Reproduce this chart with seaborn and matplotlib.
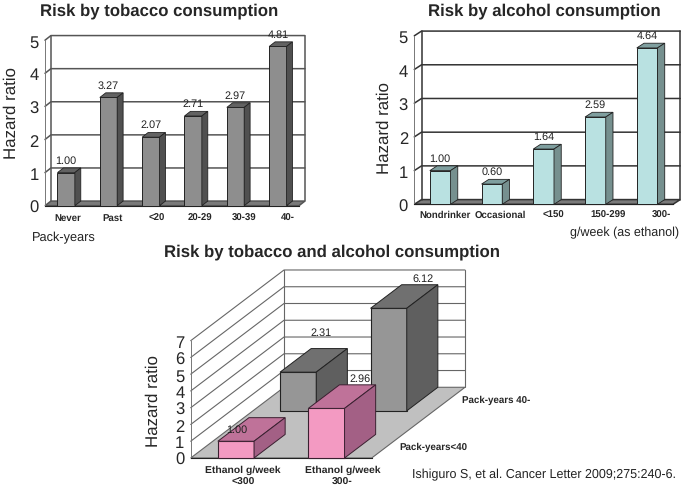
from matplotlib import pyplot as plt
from matplotlib.patches import Polygon
from matplotlib.transforms import ScaledTranslation
import numpy as np
import pandas as pd
import seaborn as sns

W, H = 685, 489

tobacco_cats = ['Never', 'Past', '<20', '20-29', '30-39', '40-']
tobacco_vals = [1.00, 3.27, 2.07, 2.71, 2.97, 4.81]

alcohol_cats = ['Nondrinker', 'Occasional', '<150', '150-299', '300-']
alcohol_vals = [1.00, 0.60, 1.64, 2.59, 4.64]

ethanol_cats = ['Ethanol g/week\n<300', 'Ethanol g/week\n300-']
low_pack_vals = [1.00, 2.96]
high_pack_vals = [2.31, 6.12]

sns.set_style('white')
plt.rcParams['font.family'] = ['Liberation Sans', 'DejaVu Sans']
plt.rcParams['text.hinting'] = 'none'

fig = plt.figure(figsize=(W / 100, H / 100), dpi=100)


def px(x, y):
    return x / W, 1 - y / H


def make_axes(left, right, bottom, top):
    ax = fig.add_axes([left / W, 1 - bottom / H, (right - left) / W, (bottom - top) / H])
    ax.patch.set_visible(False)
    return ax


# floor, back wall and side wall of the fake 3d box
def draw_box(ax, ticks, dx, dy, floor, line, lw):
    x0, x1 = ax.get_xlim()
    top = ticks[-1]
    ax.add_patch(Polygon([(x0, 0), (x1, 0), (x1 + dx, dy), (x0 + dx, dy)], fc=floor, ec=line,
                         lw=lw, clip_on=False, zorder=1))
    for t in ticks[1:]:
        ax.plot([x0, x0 + dx, x1 + dx], [t, t + dy, t + dy], color=line, lw=lw, clip_on=False, zorder=1)
    ax.plot([x0 + dx, x0 + dx], [dy, top + dy], color=line, lw=lw, clip_on=False, zorder=1)
    ax.plot([x1 + dx, x1 + dx], [dy, top + dy], color=line, lw=lw, clip_on=False, zorder=1)


# top and side faces of one bar, taken from the rectangle seaborn drew
def extrude(ax, rect, dx, dy, top_col, side_col, edge, lw, z):
    x, y, w, h = rect.get_x(), rect.get_y(), rect.get_width(), rect.get_height()
    rect.set_zorder(z)
    rect.set_clip_on(False)
    ax.add_patch(Polygon([(x, y + h), (x + w, y + h), (x + w + dx, y + h + dy), (x + dx, y + h + dy)],
                         fc=top_col, ec=edge, lw=lw, clip_on=False, zorder=z))
    ax.add_patch(Polygon([(x + w, y), (x + w + dx, y + dy), (x + w + dx, y + h + dy), (x + w, y + h)],
                         fc=side_col, ec=edge, lw=lw, clip_on=False, zorder=z))


def style_axis(ax, ticks, shifts, label_size, minor_len, pad):
    n = len(ax.get_xticks())
    ax.set_yticks(ticks)
    ax.set_xticks(np.arange(n + 1) - 0.5, minor=True)
    ax.tick_params(axis='y', length=0, pad=4.5, labelsize=12)
    ax.tick_params(axis='x', which='major', length=0, pad=pad, labelsize=label_size)
    ax.tick_params(axis='x', which='minor', direction='in', length=minor_len, width=0.6, color='#222222')
    for s in ['top', 'right']:
        ax.spines[s].set_visible(False)
    ax.spines['bottom'].set_color('#222222')
    ax.spines['bottom'].set_linewidth(0.8)
    ax.spines['left'].set_color('#777777')
    ax.spines['left'].set_linewidth(0.7)
    for lab, s in zip(ax.get_xticklabels(), shifts):
        lab.set_fontweight('bold')
        lab.set_linespacing(1.45)
        lab.set_transform(lab.get_transform() + ScaledTranslation(s / 100, 0, fig.dpi_scale_trans))


def simple_panel(ax, cats, vals, width, dx, dy, colors, shifts, line, pad):
    front, top, side = colors
    sns.barplot(x=cats, y=vals, color=front, saturation=1, width=width, edgecolor='#222222',
                linewidth=0.7, ax=ax)
    ax.set_xlim(-0.5, len(cats) - 0.5)
    ax.set_ylim(0, 5)
    draw_box(ax, [0, 1, 2, 3, 4, 5], dx, dy, '#7a7a7a', line, 1.1)
    for rect in ax.containers[0]:
        extrude(ax, rect, dx, dy, top, side, '#222222', 0.6, 3)
    ax.bar_label(ax.containers[0], fmt='%.2f', padding=5.5, fontsize=7.8, color='#222222', zorder=6)
    style_axis(ax, [0, 1, 2, 3, 4, 5], shifts, 6.9, 3.2, pad)


# tobacco
ax1 = make_axes(45, 299, 206.7, 41.2)
simple_panel(ax1, tobacco_cats, tobacco_vals, 0.41, 0.14, 0.14, ('#8e8e8e', '#626262', '#505050'),
             [1.5, 4, 6, 7, 9, 10], '#555555', 5)
ax1.set_ylabel('Hazard ratio', fontsize=12.2)
ax1.yaxis.set_label_coords(*px(19, 113), transform=fig.transFigure)

# alcohol
ax2 = make_axes(414.3, 673, 205.3, 36.8)
simple_panel(ax2, alcohol_cats, alcohol_vals, 0.4, 0.14, 0.14, ('#b9e1e1', '#7f9f9f', '#76908f'),
             [5, 8, 9.5, 13, 14], '#333333', 3.8)
ax2.set_ylabel('Hazard ratio', fontsize=12.2)
ax2.yaxis.set_label_coords(*px(392, 128), transform=fig.transFigure)

# combined
ax3 = make_axes(190.7, 371.7, 459, 341.7)
df = pd.DataFrame({'ethanol': ethanol_cats * 2,
                   'hr': low_pack_vals + high_pack_vals,
                   'pack': ['low'] * 2 + ['high'] * 2})
depth_x, depth_y = 1.031, 4.22
sns.barplot(data=df[df.pack == 'high'], x='ethanol', y='hr', color='#969696', saturation=1, width=0.4,
            edgecolor='#222222', linewidth=0.8, ax=ax3)
sns.barplot(data=df[df.pack == 'low'], x='ethanol', y='hr', color='#f39ac2', saturation=1, width=0.4,
            edgecolor='#3a2030', linewidth=0.8, ax=ax3)
ax3.set_xlim(-0.5, 1.5)
ax3.set_ylim(0, 7)
ax3.set_xlabel('')
ax3.set_ylabel('')
draw_box(ax3, [0, 1, 2, 3, 4, 5, 6, 7], depth_x, depth_y, '#c0c0c0', '#666666', 0.8)
for rect in ax3.containers[0]:
    rect.set_x(rect.get_x() + depth_x * 2 / 3)
    rect.set_y(depth_y * 2 / 3)
    extrude(ax3, rect, depth_x / 3, depth_y / 3, '#707070', '#5f5f5f', '#222222', 0.7, 3)
for rect in ax3.containers[1]:
    extrude(ax3, rect, depth_x / 3, depth_y / 3, '#bf7299', '#a36085', '#3a2030', 0.7, 4)
style_axis(ax3, [0, 1, 2, 3, 4, 5, 6, 7], [7, 16], 7.5, 6, 4.5)
ax3.set_ylabel('Hazard ratio', fontsize=12.2)
ax3.yaxis.set_label_coords(*px(161.5, 401), transform=fig.transFigure)

label_offsets = [(0.5, 9), (24, 22), (16.5, 29), (24.5, 22)]
label_rects = [ax3.containers[1][0], ax3.containers[1][1], ax3.containers[0][0], ax3.containers[0][1]]
label_vals = low_pack_vals + high_pack_vals
for rect, val, off in zip(label_rects, label_vals, label_offsets):
    ax3.annotate(f'{val:.2f}', (rect.get_x() + rect.get_width() / 2, rect.get_y() + rect.get_height()),
                 xytext=off, textcoords='offset points', ha='center', va='center', fontsize=7.8,
                 color='#222222', zorder=6, annotation_clip=False)

# titles and captions
fig.text(*px(159, 10.7), 'Risk by tobacco consumption', fontsize=12.1, fontweight='bold', ha='center', va='center')
fig.text(*px(544.5, 10.7), 'Risk by alcohol consumption', fontsize=12.1, fontweight='bold', ha='center', va='center')
fig.text(*px(331.7, 251.7), 'Risk by tobacco and alcohol consumption', fontsize=12.1, fontweight='bold',
         ha='center', va='center')
fig.text(*px(31.7, 237.7), 'Pack-years', fontsize=9.2, ha='left', va='center', color='#222222')
fig.text(*px(679, 233), 'g/week (as ethanol)', fontsize=9, ha='right', va='center', color='#222222')
fig.text(*px(461.7, 400.7), 'Pack-years 40-', fontsize=7, fontweight='bold', ha='left', va='center')
fig.text(*px(399.3, 447.7), 'Pack-years<40', fontsize=7, fontweight='bold', ha='left', va='center')
fig.text(*px(412, 475), 'Ishiguro S, et al. Cancer Letter 2009;275:240-6.', fontsize=9, ha='left', va='center',
         color='#222222')

fig.savefig('out.png', dpi=100)
